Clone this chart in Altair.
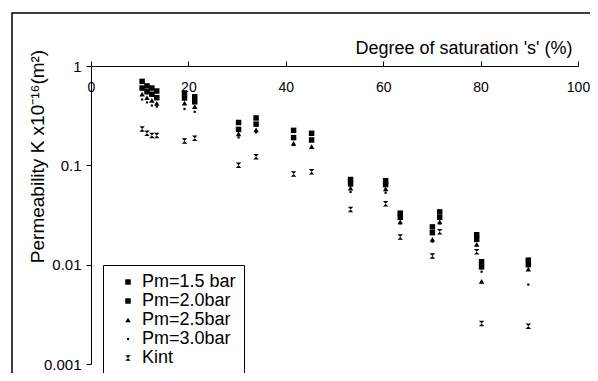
import altair as alt
import pandas as pd

# Degree of saturation (%) for each measured sample
s_vals = [10.5, 11.5, 12.5, 13.5, 19.2, 21.3, 30.3, 33.9, 41.6, 45.3,
          53.3, 60.5, 63.5, 70.1, 71.6, 79.2, 80.2, 89.8]

# Permeability K x10^-16 (m^2) per series
pm15 = [0.70, 0.63, 0.60, 0.56, 0.535, 0.49, 0.27, 0.30, 0.225, 0.21,
        0.072, 0.070, 0.033, 0.024, 0.034, 0.020, 0.0107, 0.0111]
pm20 = [0.60, 0.55, 0.52, 0.48, 0.476, 0.436, 0.23, 0.26, 0.19, 0.18,
        0.065, 0.064, 0.030, 0.021, 0.030, 0.018, 0.0095, 0.0100]
pm25 = [0.52, 0.48, 0.45, 0.42, 0.424, 0.389, 0.207, 0.227, 0.166, 0.154,
        0.059, 0.058, 0.027, 0.018, 0.027, 0.016, 0.0068, 0.0090]
pm30 = [0.46, 0.43, 0.40, 0.39, 0.369, 0.346, 0.191, 0.215, 0.16, 0.15,
        0.054, 0.053, 0.026, 0.017, 0.026, 0.0157, 0.0085, 0.0063]
kint = [0.232, 0.21, 0.20, 0.20, 0.176, 0.187, 0.10, 0.122, 0.082, 0.086,
        0.036, 0.041, 0.019, 0.0122, 0.0215, 0.0135, 0.00256, 0.0024]

series_names = ["Pm=1.5 bar", "Pm=2.0bar", "Pm=2.5bar", "Pm=3.0bar", "Kint"]
series_vals = [pm15, pm20, pm25, pm30, kint]

x_ticks = [0, 20, 40, 60, 80, 100]
y_ticks = [0.001, 0.01, 0.1, 1]

rows = []
for name, vals in zip(series_names, series_vals):
    for s, k in zip(s_vals, vals):
        rows.append({"s": s, "K": k, "series": name})
df = pd.DataFrame(rows)

hourglass = "M-1,-1L1,-1L0,0L1,1L-1,1L0,0Z"
small_dot = "M-0.4,-0.4L0.4,-0.4L0.4,0.4L-0.4,0.4Z"
shapes = ["square", "square", "triangle-up", small_dot, hourglass]

FONT = "Liberation Sans"

points = alt.Chart(df).mark_point(filled=True, color="black", opacity=1, size=30).encode(
    x=alt.X("s:Q",
            scale=alt.Scale(domain=[0, 100], nice=False, zero=False),
            axis=alt.Axis(orient="top", values=x_ticks, format="d",
                          title="Degree of saturation 's' (%)",
                          titleFontSize=18, titleFontWeight="normal",
                          titleAnchor="end", titleAlign="right",
                          titleX=481, titleY=-13, titleBaseline="alphabetic",
                          labelBaseline="top", labelPadding=-19,
                          tickSize=5, labelFontSize=14, labelFlush=False,
                          grid=False, domainColor="black", tickColor="black",
                          labelColor="black", titleColor="black")),
    y=alt.Y("K:Q",
            scale=alt.Scale(type="log", domain=[0.001, 1], nice=False),
            axis=alt.Axis(values=y_ticks, format="~g",
                          title="Permeability K x10⁻¹⁶(m²)",
                          titleFontSize=19, titleFontWeight="normal",
                          titleX=-54, titleY=90, titleAngle=-90,
                          titleAlign="center", titleBaseline="middle",
                          tickSize=5, labelPadding=5, labelFontSize=15,
                          labelFlush=False, grid=False,
                          domainColor="black", tickColor="black",
                          labelColor="black", titleColor="black")),
    shape=alt.Shape("series:N",
                    scale=alt.Scale(domain=series_names, range=shapes),
                    legend=alt.Legend(title=None, orient="none",
                                      legendX=12, legendY=199)),
)

frame = alt.Chart(pd.DataFrame({"a": [0]})).mark_rect(
    fill=None, stroke="black", strokeWidth=1.5
).encode(
    x=alt.value(-79), x2=alt.value(700),
    y=alt.value(-53), y2=alt.value(600),
)

chart = alt.layer(frame, points).properties(
    width=487, height=298,
    autosize=alt.AutoSizeParams(type="none"),
    padding={"left": 83, "top": 58, "right": 12, "bottom": 9},
).configure(
    font=FONT,
).configure_view(
    stroke=None,
).configure_legend(
    strokeColor="black", strokeWidth=1, fillColor="white",
    padding=8, labelFontSize=18, labelColor="black",
    rowPadding=1, labelOffset=5, symbolOffset=8, symbolSize=30,
    symbolFillColor="black", symbolStrokeColor="black",
)

chart.save("out.html", embed_options={"renderer": "svg", "actions": False})
